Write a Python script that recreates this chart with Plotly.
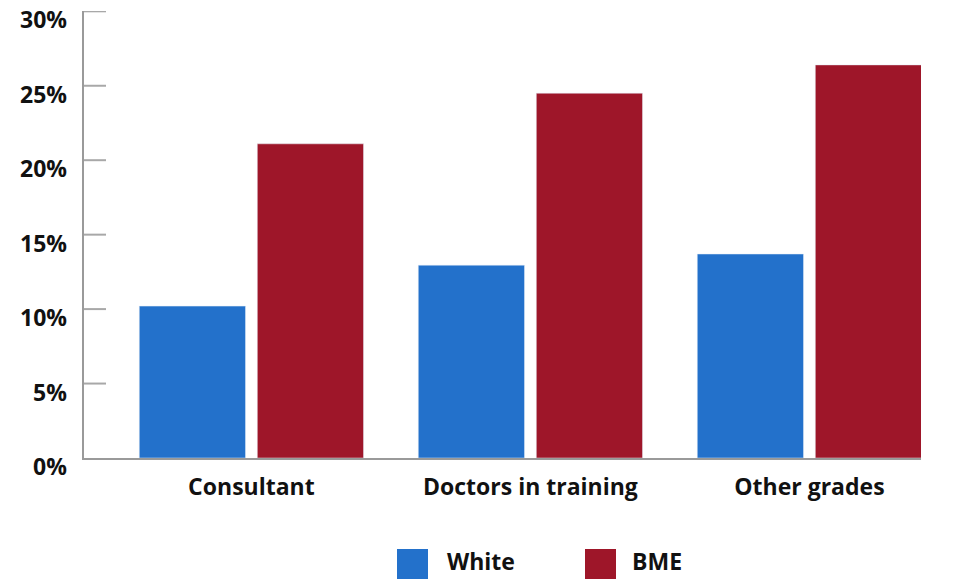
import plotly.graph_objects as go

categories = ["Consultant", "Doctors in training", "Other grades"]
white_vals = [10.2, 12.95, 13.7]
bme_vals = [21.1, 24.5, 26.4]
series_names = ["White", "BME"]
tick_vals = [0, 5, 10, 15, 20, 25, 30]
tick_text = ["0%", "5%", "10%", "15%", "20%", "25%", "30%"]

BLUE = "#2371CB"
RED = "#9E1629"
FONT = "Open Sans"
FS = 23

W, H = 959, 579
ML, MR, MT, MB = 84, 38, 11, 121

fig = go.Figure()
fig.add_trace(go.Bar(name=series_names[0], x=categories, y=white_vals, marker_color=BLUE))
fig.add_trace(go.Bar(name=series_names[1], x=categories, y=bme_vals, marker_color=RED))

fig.update_layout(
    width=W, height=H,
    margin=dict(l=ML, r=MR, t=MT, b=MB, autoexpand=False),
    plot_bgcolor="white", paper_bgcolor="white",
    barmode="group", bargap=0.154, bargroupgap=0.10,
    showlegend=False,
    font=dict(family=FONT, size=FS, color="#111111", weight="bold"),
)
fig.update_xaxes(
    range=[-0.6, 2.4], showline=True, linecolor="#9A9A9A", linewidth=1.5,
    ticks="", showgrid=False, ticklabelstandoff=8, automargin=False,
    tickfont=dict(family=FONT, size=FS, weight="bold"),
)
fig.update_yaxes(
    range=[0, 30.02], tickvals=tick_vals, showticklabels=False,
    showline=True, linecolor="#9A9A9A", linewidth=1.5,
    ticks="", showgrid=False, zeroline=False, automargin=False,
)

pw = W - ML - MR
ph = H - MT - MB

# inside tick marks and (slightly lowered) tick labels on the y axis
for tv, tt in zip(tick_vals, tick_text):
    if tv > 0:
        fig.add_shape(type="line", xref="paper", yref="y", x0=0, x1=22 / pw, y0=tv, y1=tv,
                      line=dict(color="#A8A8A8", width=2), layer="above")
    fig.add_annotation(xref="paper", yref="y", x=0, y=tv, text=tt, showarrow=False,
                       xanchor="right", yanchor="middle", xshift=-15, yshift=-8,
                       font=dict(family=FONT, size=FS, weight="bold", color="#111111"))

# Legend drawn with large square swatches
def px_x(x):
    return (x - ML) / pw
def px_y(y):
    return (H - MB - y) / ph

legend_items = [(series_names[0], BLUE, 397, 447), (series_names[1], RED, 585, 632)]
for name, col, sx, tx in legend_items:
    fig.add_shape(type="rect", xref="paper", yref="paper",
                  x0=px_x(sx), x1=px_x(sx + 31), y0=px_y(549), y1=px_y(579),
                  fillcolor=col, line=dict(width=0))
    fig.add_annotation(xref="paper", yref="paper", x=px_x(tx - 2), y=px_y(579),
                       text=name, showarrow=False, xanchor="left", yanchor="bottom",
                       font=dict(family=FONT, size=FS, weight="bold", color="#111111"))

fig.write_html("out.html")
